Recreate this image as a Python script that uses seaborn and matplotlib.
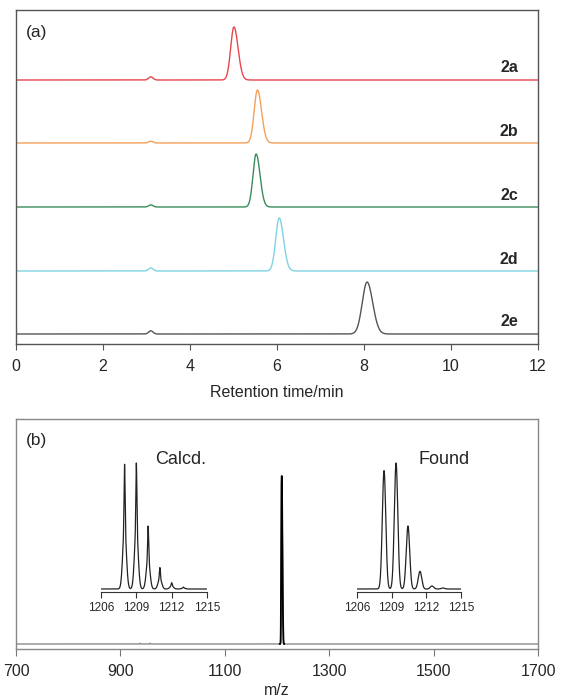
import numpy as np
import pandas as pd
import matplotlib
matplotlib.use("Agg")
import matplotlib.pyplot as plt
import seaborn as sns

# ---------------- data ----------------
# (a) HPLC traces: main peak retention time (min), relative height, left/right widths
samples = ["2a", "2b", "2c", "2d", "2e"]
colors = ["#e8464e", "#f4a05a", "#3a8c5c", "#7fd3e3", "#555555"]
main_rt = [5.01, 5.55, 5.52, 6.05, 8.07]
main_height = [1.0, 1.0, 1.0, 1.0, 0.98]
main_sig_left = [0.075, 0.075, 0.072, 0.08, 0.11]
main_sig_right = [0.095, 0.095, 0.09, 0.10, 0.13]
minor_rt = [3.1, 3.1, 3.1, 3.1, 3.1]
minor_height = [0.06, 0.035, 0.04, 0.06, 0.06]
time_ticks = [0, 2, 4, 6, 8, 10, 12]

# (b) MS: full spectrum peaks (m/z, relative intensity)
ms_mz = [938, 957, 1208.4, 1209.4, 1210.4, 1211.4]
ms_int = [0.006, 0.006, 0.94, 1.0, 0.5, 0.14]
ms_ticks = [700, 900, 1100, 1300, 1500, 1700]

# calculated isotope pattern
calc_mz = [1208, 1209, 1210, 1211, 1212, 1213]
calc_int = [0.99, 1.0, 0.50, 0.17, 0.05, 0.015]
# found isotope pattern
found_mz = [1208.34, 1209.38, 1210.41, 1211.45, 1212.49, 1213.44]
found_int = [0.94, 1.0, 0.50, 0.14, 0.024, 0.008]
iso_ticks = [1206, 1209, 1212, 1215]


def split_gauss(x, mu, h, sl, sr):
    s = np.where(x < mu, sl, sr)
    return h * np.exp(-0.5 * ((x - mu) / s) ** 2)


def gauss(x, mu, h, s):
    return h * np.exp(-0.5 * ((x - mu) / s) ** 2)


sns.set_style("white")
plt.rcParams["font.family"] = ["Liberation Sans", "DejaVu Sans"]

W, H = 561, 698
fig = plt.figure(figsize=(W / 100, H / 100), dpi=100)


def fx(px):
    return px / W


def fy(py):
    return (H - py) / H


# ---------------- panel (a) ----------------
axa = fig.add_axes([fx(16), fy(344), fx(538) - fx(16), fy(10) - fy(344)])
t = np.linspace(0, 12, 3001)
unit = 53.0  # px per unit height
baselines_px = [80, 143, 207, 271, 334]
offsets = [(344 - b) / unit for b in baselines_px]
rows = []
for i, s in enumerate(samples):
    y = split_gauss(t, main_rt[i], main_height[i], main_sig_left[i], main_sig_right[i])
    y = y + gauss(t, minor_rt[i], minor_height[i], 0.05)
    rows.append(pd.DataFrame({"t": t, "y": y + offsets[i], "sample": s}))
dfa = pd.concat(rows, ignore_index=True)
sns.lineplot(data=dfa, x="t", y="y", hue="sample", palette=colors,
             estimator=None, sort=False, legend=False, linewidth=1.0, ax=axa)
axa.set_xlim(0, 12)
axa.set_ylim(0, 334 / unit)
axa.set_xticks(time_ticks)
axa.set_yticks([])
axa.set_ylabel("")
axa.set_xlabel("Retention time/min", fontsize=11.5, labelpad=8)
axa.tick_params(axis="x", direction="out", length=4, width=0.8, color="#555555",
                labelsize=11.5, pad=7, bottom=True)
for sp in axa.spines.values():
    sp.set_color("#555555")
    sp.set_linewidth(1.0)
for i, s in enumerate(samples):
    axa.text(0.962, (offsets[i] + 12 / unit) / (334 / unit), s, transform=axa.transAxes,
             ha="right", va="center", fontsize=11.5, fontweight="bold")
axa.text(fx(27) - fx(16), 1 - (33 - 10) / 334, "(a)", transform=axa.transAxes,
         ha="left", va="center", fontsize=12.5)

# ---------------- panel (b) ----------------
axb = fig.add_axes([fx(16), fy(649), fx(538) - fx(16), fy(419) - fy(649)])
mz = np.concatenate([np.linspace(700, 1200, 2001), np.linspace(1200, 1220, 801),
                     np.linspace(1220, 1700, 1001)])
iy = np.zeros_like(mz)
for m, v in zip(ms_mz, ms_int):
    iy = iy + gauss(mz, m, v, 0.55)
iy = iy / iy.max()
dfb = pd.DataFrame({"mz": mz, "I": iy})
unitb = 168.0
sns.lineplot(data=dfb, x="mz", y="I", color="#8a8a8a", estimator=None, sort=False,
             linewidth=1.0, ax=axb)
pk = dfb[(dfb["mz"] > 1205) & (dfb["mz"] < 1214)]
sns.lineplot(data=pk, x="mz", y="I", color="#000000", estimator=None, sort=False,
             linewidth=1.3, ax=axb)
axb.set_xlim(700, 1700)
axb.set_ylim(-5 / unitb, (644 - 419) / unitb)
axb.set_xticks(ms_ticks)
axb.set_yticks([])
axb.set_ylabel("")
axb.set_xlabel("m/z", fontsize=11.5, labelpad=3)
axb.tick_params(axis="x", direction="out", length=5, width=0.8, color="#777777",
                labelsize=11.5, pad=6, bottom=True)
for sp in axb.spines.values():
    sp.set_color("#888888")
    sp.set_linewidth(1.0)
axb.text(fx(27) - fx(16), 1 - (440 - 419) / 230, "(b)", transform=axb.transAxes,
         ha="left", va="center", fontsize=12.5)


def inset(x0, x1, axis_py, top_py, mzs, ints, narrow, label, label_px):
    ax = fig.add_axes([fx(x0), fy(axis_py), fx(x1) - fx(x0), fy(top_py) - fy(axis_py)])
    x = np.linspace(1206, 1215, 1801)
    y = np.zeros_like(x)
    for m, v in zip(mzs, ints):
        if narrow:
            y = y + gauss(x, m, 0.5 * v, 0.15) + gauss(x, m, 0.5 * v, 0.04)
        else:
            y = y + gauss(x, m, v, 0.15)
    d = pd.DataFrame({"x": x, "y": y})
    sns.lineplot(data=d, x="x", y="y", color="#222222", estimator=None, sort=False,
                 linewidth=0.9, ax=ax)
    u = 126.0
    ax.set_xlim(1206, 1215)
    ax.set_ylim(-3 / u, (axis_py - top_py - 3) / u)
    ax.set_xticks(iso_ticks)
    ax.set_yticks([])
    ax.set_xlabel("")
    ax.set_ylabel("")
    ax.patch.set_alpha(0)
    for k in ["top", "left", "right"]:
        ax.spines[k].set_visible(False)
    ax.spines["bottom"].set_color("#333333")
    ax.spines["bottom"].set_linewidth(0.8)
    ax.tick_params(axis="x", direction="out", length=4, width=0.8, color="#333333",
                   labelsize=8.5, pad=3, bottom=True)
    fig.text(fx(label_px), fy(459), label, ha="left", va="center", fontsize=13)


inset(101, 207, 592, 455, calc_mz, calc_int, True, "Calcd.", 155)
inset(357, 461, 592, 455, found_mz, found_int, False, "Found", 419)

fig.savefig("out.png", dpi=100)
